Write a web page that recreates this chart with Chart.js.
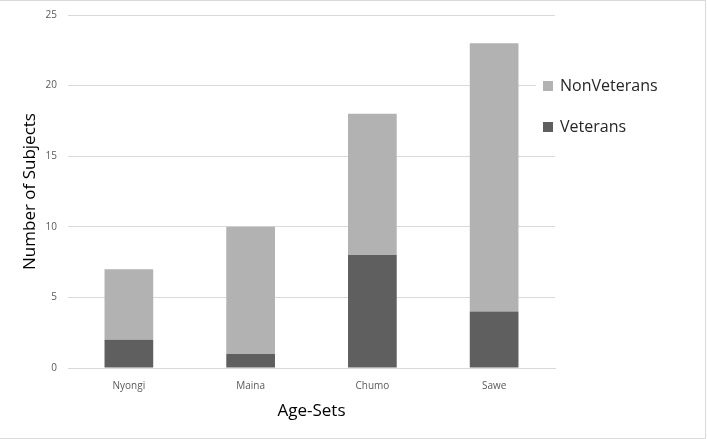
<!DOCTYPE html>
<html>
<head>
<meta charset="utf-8">
<script src="https://cdn.jsdelivr.net/npm/chart.js@4.4.1/dist/chart.umd.min.js"></script>
<style>
    html, body { margin: 0; padding: 0; background: #fff; }
    #wrap { position: relative; width: 705px; height: 437px; border: 1px solid #d9d9d9; border-left: none; }
</style>
</head>
<body>
<div id="wrap"><canvas id="chart"></canvas></div>
<script>
const ageSets = ["Nyongi", "Maina", "Chumo", "Sawe"];
const veterans = [2, 1, 8, 4];
const nonVeterans = [5, 9, 10, 19];
const yTicks = [0, 5, 10, 15, 20, 25];

const fontFamily = "'Open Sans', 'Liberation Sans', sans-serif";

// legend drawn on top of the plot, like the original
const sideLegend = {
    id: "sideLegend",
    afterDraw(chart) {
        const ctx = chart.ctx;
        const area = chart.chartArea;
        const x = area.right - 12;
        const items = [
            { label: chart.data.datasets[1].label, color: chart.data.datasets[1].backgroundColor, y: 85 },
            { label: chart.data.datasets[0].label, color: chart.data.datasets[0].backgroundColor, y: 126 }
        ];
        ctx.save();
        ctx.fillStyle = "#fff";
        ctx.fillRect(x - 7, 69, 130, 75);
        ctx.font = "16px " + fontFamily;
        ctx.textBaseline = "middle";
        items.forEach(it => {
            ctx.fillStyle = it.color;
            ctx.fillRect(x, it.y - 5, 10, 10);
            ctx.fillStyle = "#262626";
            ctx.fillText(it.label, x + 17, it.y);
        });
        ctx.restore();
    }
};

new Chart(document.getElementById("chart"), {
    type: "bar",
    data: {
        labels: ageSets,
        datasets: [
            { label: "Veterans", data: veterans, backgroundColor: "#5f5f5f" },
            { label: "NonVeterans", data: nonVeterans, backgroundColor: "#b2b2b2" }
        ]
    },
    options: {
        responsive: true,
        maintainAspectRatio: false,
        animation: false,
        layout: { padding: { top: 14, right: 150, left: 16, bottom: 13 } },
        plugins: { legend: { display: false }, tooltip: { enabled: false } },
        datasets: { bar: { categoryPercentage: 1, barPercentage: 0.4 } },
        scales: {
            x: {
                stacked: true,
                grid: { display: false },
                border: { color: "#d9d9d9" },
                ticks: { color: "#595959", font: { family: fontFamily, size: 10 }, padding: 4 },
                title: { display: true, text: "Age-Sets", color: "#000", font: { family: fontFamily, size: 17 }, padding: { top: 4 } },
                afterFit(s) { s.height = 57; }
            },
            y: {
                stacked: true,
                min: 0,
                max: 25,
                afterBuildTicks(s) { s.ticks = yTicks.map(v => ({ value: v })); },
                grid: { color: "#d9d9d9", drawTicks: false },
                border: { display: false },
                ticks: { color: "#595959", font: { family: fontFamily, size: 10 }, padding: 11 },
                title: { display: true, text: "Number of Subjects", color: "#000", font: { family: fontFamily, size: 17 }, padding: { bottom: 4 } },
                afterFit(s) { s.width = 52; s.paddingTop = 0; s.paddingBottom = 0; }
            }
        }
    },
    plugins: [sideLegend]
});
</script>
</body>
</html>
